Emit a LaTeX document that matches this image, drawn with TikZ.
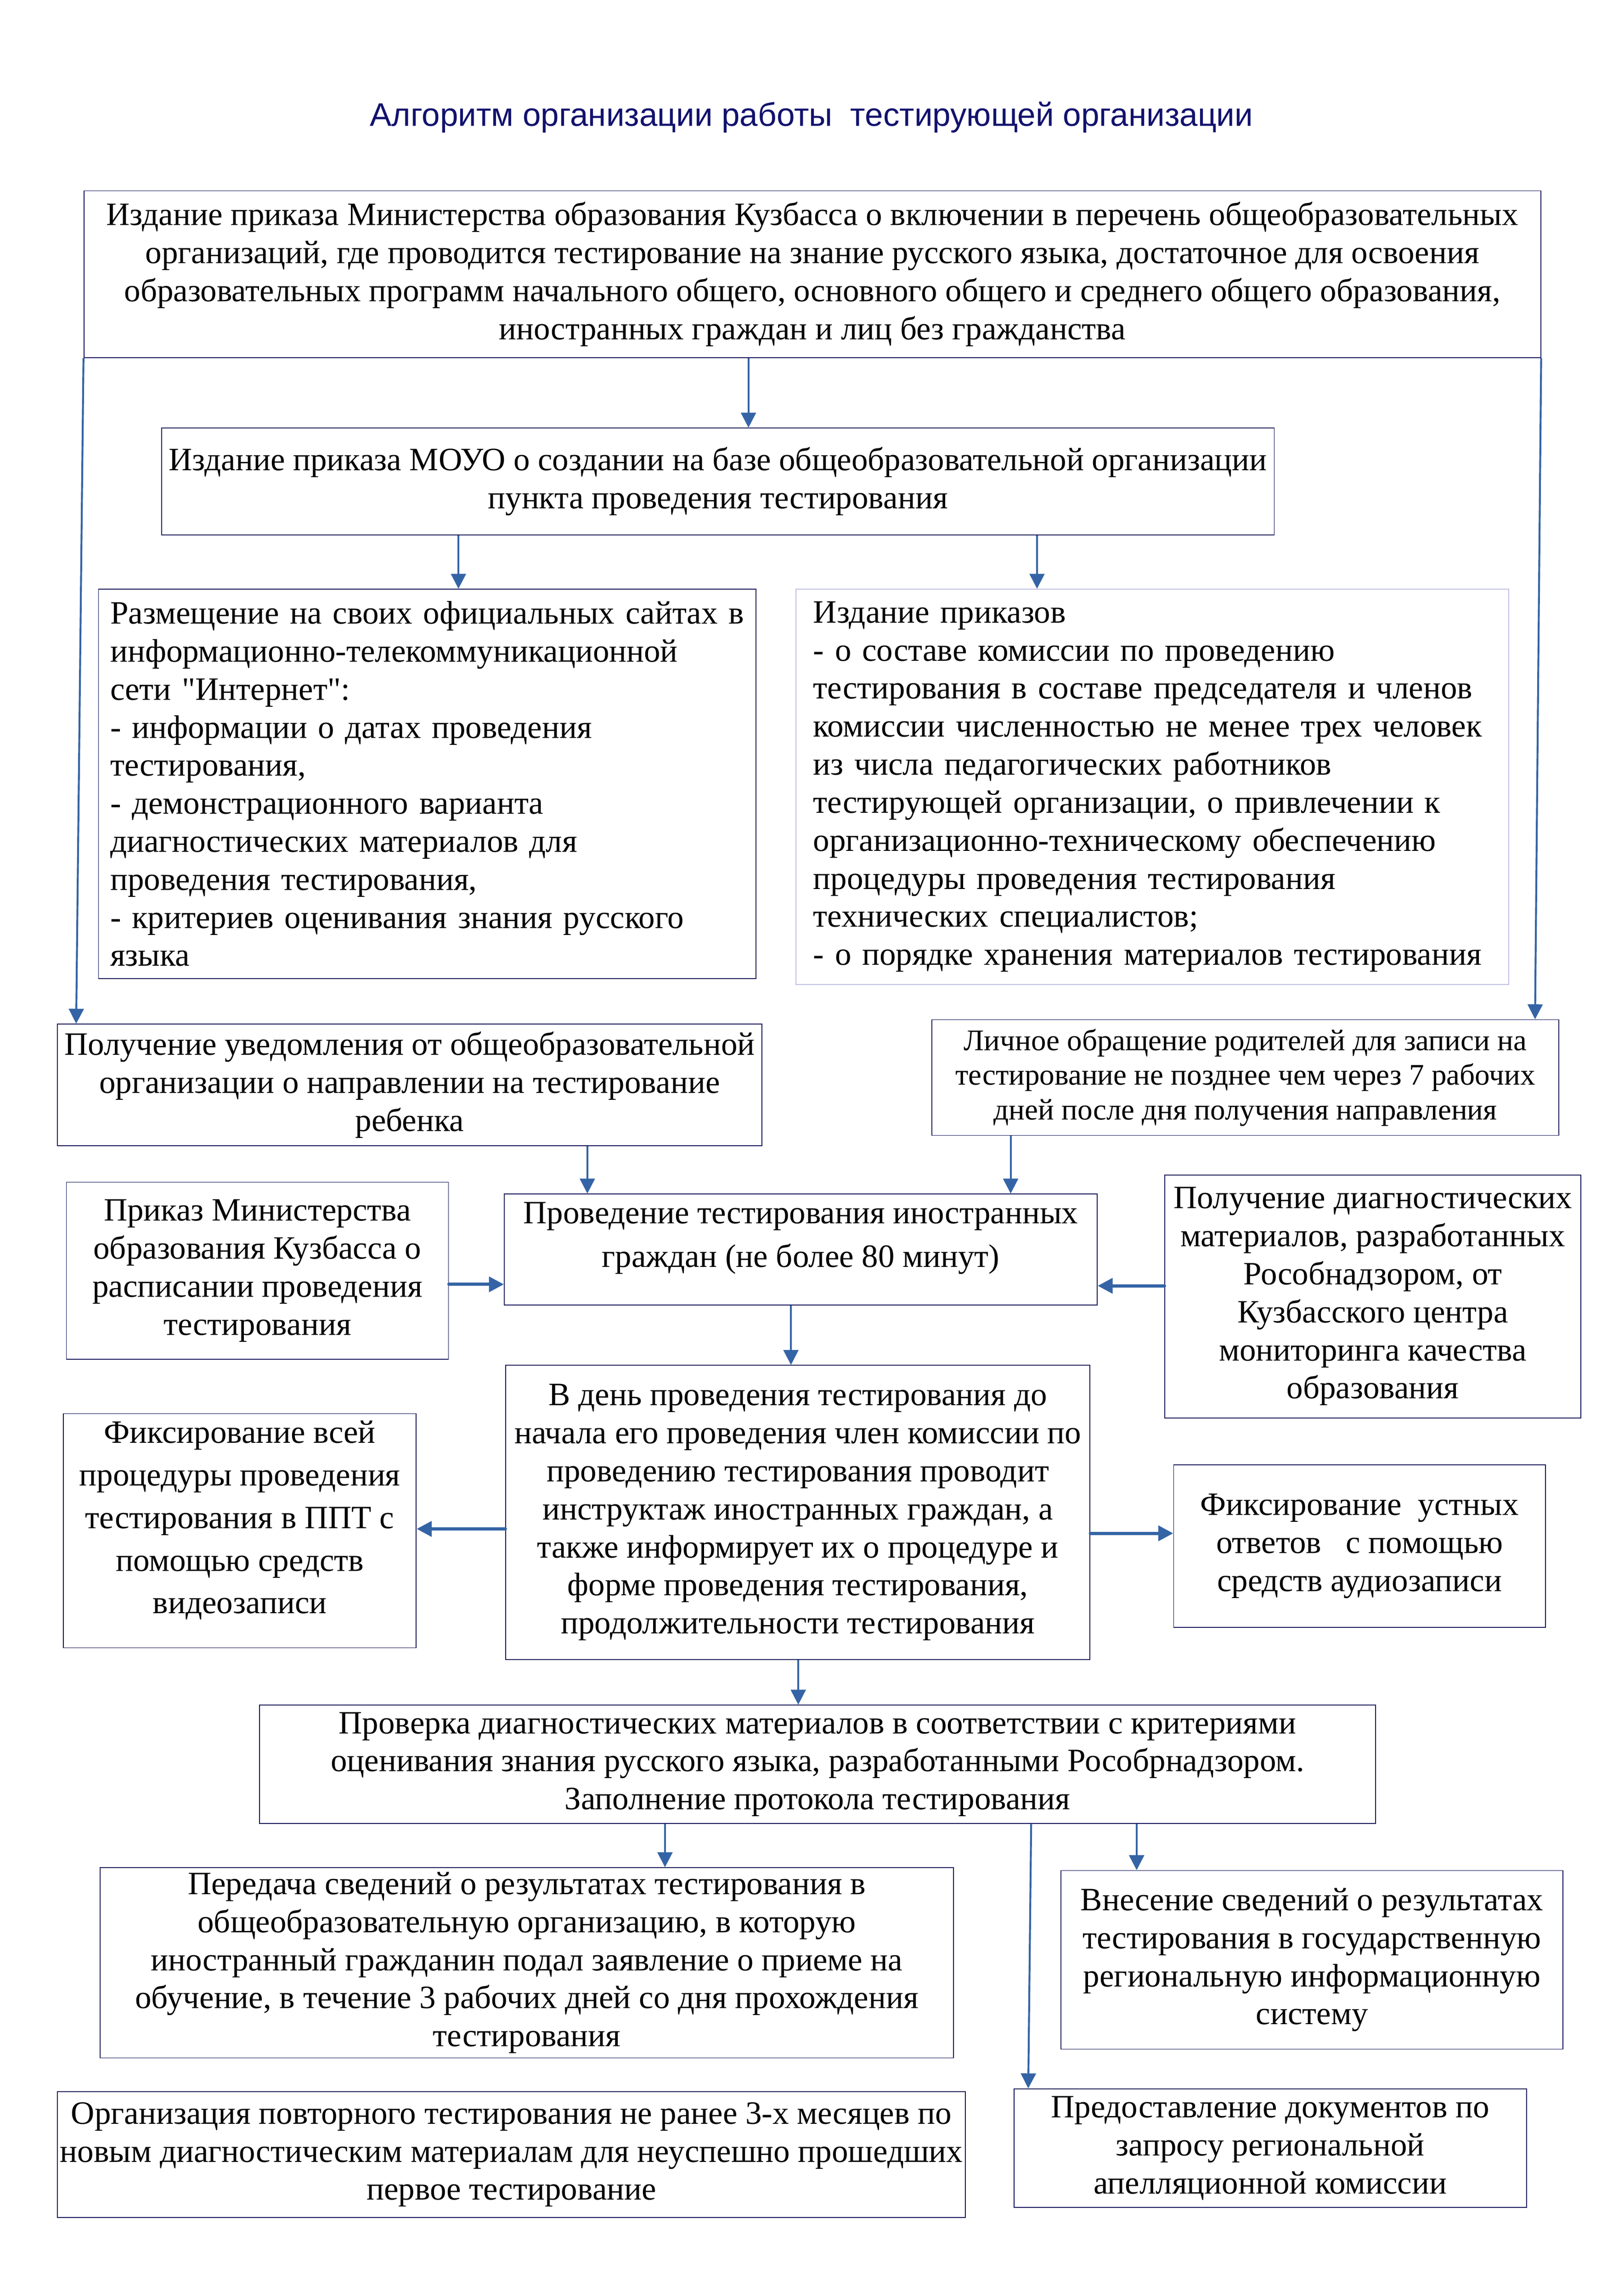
\documentclass[tikz,border=0pt]{standalone}
\usepackage{fontspec}
\setmainfont{Liberation Serif}[Ligatures=TeXOff]
\newfontfamily\titlefont{Liberation Sans}
\usetikzlibrary{arrows.meta}

\definecolor{navyline}{RGB}{20,20,90}
\definecolor{lavline}{RGB}{190,190,230}
\definecolor{arrowblue}{RGB}{52,100,165}
\definecolor{titleblue}{RGB}{18,18,110}

% box sizes are given in pixels of the page
\newcommand\px[1]{\fpeval{(#1)*0.018944}cm}

\tikzset{
  blk/.style={draw=navyline, line width=0.3pt, inner sep=0pt, anchor=north west,
    align=center, font=\fontsize{12}{14}\selectfont},
  arr/.style={-{Triangle[length=5.5pt,width=5.5pt]}, draw=arrowblue, line width=0.7pt},
  fatarr/.style={arr, line width=1.2pt, line cap=round},
}

\begin{document}
\begin{tikzpicture}[x=0.018944cm, y=-0.018944cm]
    \useasboundingbox (0,0) rectangle (1108.5,1567.8);

    \node[font=\titlefont\fontsize{12}{14}\selectfont, text=titleblue] (title) at (554,80)
        {Алгоритм организации работы\ \ тестирующей организации};

    % orders at the top
    \node[blk, minimum width=\px{995}, minimum height=\px{114}] (izd) at (57,130)
        {Издание приказа Министерства образования Кузбасса о включении в перечень общеобразовательных\\
         организаций, где проводится тестирование на знание русского языка, достаточное для освоения\\
         образовательных программ начального общего, основного общего и среднего общего образования,\\
         иностранных граждан и лиц без гражданства};
    \node[blk, minimum width=\px{760}, minimum height=\px{73}] (moyo) at (110,292)
        {Издание приказа МОУО о создании на базе общеобразовательной организации\\
         пункта проведения тестирования};
    \node[blk, align=left, inner xsep=\px{8}, minimum width=\px{449}, minimum height=\px{266}, text width=\px{433}] (site) at (67,402)
        {Размещение на своих официальных сайтах в\\
         информационно-телекоммуникационной\\
         сети "Интернет":\\
         - информации о датах проведения\\
         тестирования,\\
         - демонстрационного варианта\\
         диагностических материалов для\\
         проведения тестирования,\\
         - критериев оценивания знания русского\\
         языка};
    \node[blk, draw=lavline, align=left, inner xsep=\px{12}, minimum width=\px{487}, minimum height=\px{270}, text width=\px{463}] (orders) at (543,402)
        {Издание приказов\\
         - о составе комиссии по проведению\\
         тестирования в составе председателя и членов\\
         комиссии численностью не менее трех человек\\
         из числа педагогических работников\\
         тестирующей организации, о привлечении к\\
         организационно-техническому обеспечению\\
         процедуры проведения тестирования\\
         технических специалистов;\\
         - о порядке хранения материалов тестирования};

    % before the test
    \node[blk, minimum width=\px{481}, minimum height=\px{83}] (notice) at (39,699)
        {Получение уведомления от общеобразовательной\\
         организации о направлении на тестирование\\
         ребенка};
    \node[blk, font=\fontsize{11}{12.8}\selectfont, minimum width=\px{428}, minimum height=\px{79}] (parents) at (636,696)
        {Личное обращение родителей для записи на\\
         тестирование не позднее чем через 7 рабочих\\
         дней после дня получения направления};
    \node[blk, minimum width=\px{261}, minimum height=\px{121}] (sched) at (45,807)
        {Приказ Министерства\\
         образования Кузбасса о\\
         расписании проведения\\
         тестирования};
    \node[blk, font=\fontsize{12}{16}\selectfont, text depth=11pt, minimum width=\px{405}, minimum height=\px{76}] (test) at (344,815)
        {Проведение тестирования иностранных\\
         граждан (не более 80 минут)};
    \node[blk, minimum width=\px{284}, minimum height=\px{166}] (diag) at (795,802)
        {Получение диагностических\\
         материалов, разработанных\\
         Рособнадзором, от\\
         Кузбасского центра\\
         мониторинга качества\\
         образования};

    % day of the test
    \node[blk, minimum width=\px{399}, minimum height=\px{201}] (brief) at (345,932)
        {В день проведения тестирования до\\
         начала его проведения член комиссии по\\
         проведению тестирования проводит\\
         инструктаж иностранных граждан, а\\
         также информирует их о процедуре и\\
         форме проведения тестирования,\\
         продолжительности тестирования};
    \node[blk, font=\fontsize{12}{15.7}\selectfont, text depth=10pt, minimum width=\px{241}, minimum height=\px{160}] (video) at (43,965)
        {Фиксирование всей\\
         процедуры проведения\\
         тестирования в ППТ с\\
         помощью средств\\
         видеозаписи};
    \node[blk, minimum width=\px{254}, minimum height=\px{111}] (audio) at (801,1000)
        {Фиксирование\ \ устных\\
         ответов\ \ \ с помощью\\
         средств аудиозаписи};

    % after the test
    \node[blk, minimum width=\px{762}, minimum height=\px{81}] (check) at (177,1164)
        {Проверка диагностических материалов в соответствии с критериями\\
         оценивания знания русского языка, разработанными Рособрнадзором.\\
         Заполнение протокола тестирования};
    \node[blk, minimum width=\px{583}, minimum height=\px{130}] (transfer) at (68,1275)
        {Передача сведений о результатах тестирования в\\
         общеобразовательную организацию, в которую\\
         иностранный гражданин подал заявление о приеме на\\
         обучение, в течение 3 рабочих дней со дня прохождения\\
         тестирования};
    \node[blk, minimum width=\px{343}, minimum height=\px{122}] (gis) at (724,1277)
        {Внесение сведений о результатах\\
         тестирования в государственную\\
         региональную информационную\\
         систему};
    \node[blk, minimum width=\px{620}, minimum height=\px{86}] (retest) at (39,1428)
        {Организация повторного тестирования не ранее 3-х месяцев по\\
         новым диагностическим материалам для неуспешно прошедших\\
         первое тестирование};
    \node[blk, minimum width=\px{350}, minimum height=\px{81}] (appeal) at (692,1426)
        {Предоставление документов по\\
         запросу региональной\\
         апелляционной комиссии};

    % connectors
    \draw[arr] (izd.south -| 511,0) -- (moyo.north -| 511,0);
    \draw[arr] (izd.south west) -- (notice.north -| 52,0);
    \draw[arr] (izd.south east) -- (parents.north -| 1048,0);
    \draw[arr] (moyo.south -| 313,0) -- (site.north -| 313,0);
    \draw[arr] (moyo.south -| 708,0) -- (orders.north -| 708,0);
    \draw[arr] (notice.south -| 401,0) -- (test.north -| 401,0);
    \draw[arr] (parents.south -| 690,0) -- (test.north -| 690,0);
    \draw[fatarr] (sched.east |- 0,877) -- (test.west |- 0,877);
    \draw[fatarr] (diag.west |- 0,878) -- (test.east |- 0,878);
    \draw[arr] (test.south -| 540,0) -- (brief.north -| 540,0);
    \draw[fatarr] (brief.west |- 0,1044) -- (video.east |- 0,1044);
    \draw[fatarr] (brief.east |- 0,1047) -- (audio.west |- 0,1047);
    \draw[arr] (brief.south -| 545,0) -- (check.north -| 545,0);
    \draw[arr] (check.south -| 454,0) -- (transfer.north -| 454,0);
    \draw[arr] (check.south -| 776,0) -- (gis.north -| 776,0);
    \draw[arr] (check.south -| 704,0) -- (appeal.north -| 702,0);
\end{tikzpicture}
\end{document}
